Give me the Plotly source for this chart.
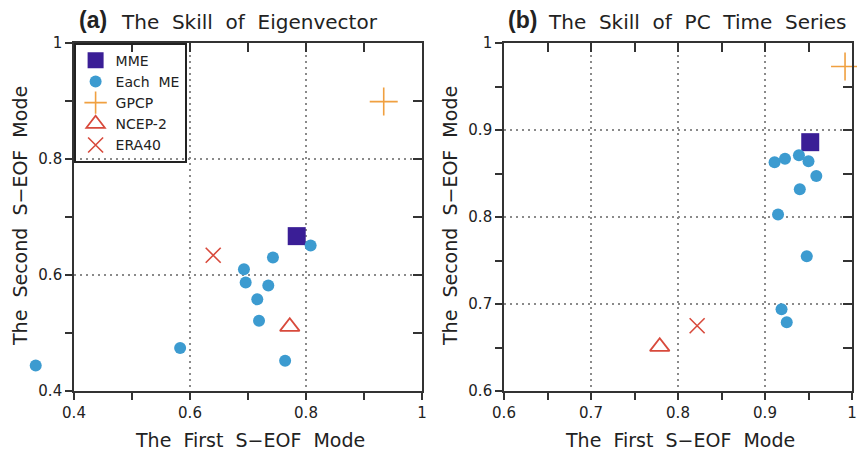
import plotly.graph_objects as go

# ---------------- data ----------------
# Panel (a): The Skill of Eigenvector
a_mme_x = [0.784]
a_mme_y = [0.667]
a_me_x = [0.808, 0.743, 0.693, 0.696, 0.735, 0.716, 0.719, 0.583, 0.764, 0.334]
a_me_y = [0.651, 0.630, 0.610, 0.587, 0.582, 0.558, 0.521, 0.474, 0.452, 0.444]
a_gpcp_x = [0.934]
a_gpcp_y = [0.899]
a_ncep_x = [0.772]
a_ncep_y = [0.511]
a_era_x = [0.640]
a_era_y = [0.634]

# Panel (b): The Skill of PC Time Series
b_mme_x = [0.952]
b_mme_y = [0.886]
b_me_x = [0.911, 0.923, 0.939, 0.950, 0.959, 0.940, 0.915, 0.948, 0.919, 0.925]
b_me_y = [0.863, 0.867, 0.871, 0.864, 0.847, 0.832, 0.803, 0.755, 0.694, 0.679]
b_gpcp_x = [0.992]
b_gpcp_y = [0.973]
b_ncep_x = [0.779]
b_ncep_y = [0.651]
b_era_x = [0.822]
b_era_y = [0.675]

a_ticks = [0.4, 0.6, 0.8, 1.0]
a_ticklabels = ["0.4", "0.6", "0.8", "1"]
b_ticks = [0.6, 0.7, 0.8, 0.9, 1.0]
b_ticklabels = ["0.6", "0.7", "0.8", "0.9", "1"]

series_names = ["MME", "Each ME", "GPCP", "NCEP-2", "ERA40"]
titles = ["The Skill of Eigenvector", "The Skill of PC Time Series"]
panel_tags = ["(a)", "(b)"]
xlabel = "The First S\u2212EOF Mode"
ylabel = "The Second S\u2212EOF Mode"

# ---------------- style ----------------
C_MME = "#3a1e96"
C_ME = "#3c9bd0"
C_GPCP = "#f0a040"
C_RED = "#d84a3c"
FONT = "DejaVu Sans"
AX = "#333333"

def spaced(s):
    return s.replace(" ", "\u00a0\u00a0")

fig = go.Figure()

legend_order = {"MME": 1, "Each ME": 2, "GPCP": 3, "NCEP-2": 4, "ERA40": 5}

def add_panel(xa, ya, xa_me, ya_me, data, show):
    (mx, my), (ex, ey), (gx, gy), (nx, ny), (rx, ry) = data
    common = dict(mode="markers", cliponaxis=False, showlegend=show, hoverinfo="x+y")
    fig.add_trace(go.Scatter(x=mx, y=my, name=series_names[0], xaxis=xa, yaxis=ya,
                             marker=dict(symbol="square", size=18, color=C_MME), **common))
    fig.add_trace(go.Scatter(x=gx, y=gy, name=series_names[2], xaxis=xa, yaxis=ya,
                             marker=dict(symbol="cross-thin-open", size=20, color=C_GPCP,
                                         line=dict(width=1.6, color=C_GPCP)), **common))
    fig.add_trace(go.Scatter(x=nx, y=ny, name=series_names[3], xaxis=xa, yaxis=ya,
                             marker=dict(symbol="triangle-up-open", size=17, color=C_RED,
                                         line=dict(width=1.8, color=C_RED)), **common))
    fig.add_trace(go.Scatter(x=rx, y=ry, name=series_names[4], xaxis=xa, yaxis=ya,
                             marker=dict(symbol="x-thin-open", size=15, color=C_RED,
                                         line=dict(width=1.6, color=C_RED)), **common))
    fig.add_trace(go.Scatter(x=ex, y=ey, name=series_names[1], xaxis=xa_me, yaxis=ya_me,
                             marker=dict(symbol="circle", size=12, color=C_ME), **common))

add_panel("x", "y", "x5", "y5",
          [(a_mme_x, a_mme_y), (a_me_x, a_me_y), (a_gpcp_x, a_gpcp_y),
           (a_ncep_x, a_ncep_y), (a_era_x, a_era_y)], True)
add_panel("x2", "y2", "x2", "y2",
          [(b_mme_x, b_mme_y), (b_me_x, b_me_y), (b_gpcp_x, b_gpcp_y),
           (b_ncep_x, b_ncep_y), (b_era_x, b_era_y)], False)

for tr in fig.data:
    tr.legendrank = legend_order[tr.name]
    # legend label with wider spacing like the original
    tr.name = spaced(tr.name)

# invisible traces to hold mirror (inside-tick) axes
fig.add_trace(go.Scatter(x=[0.4], y=[0.4], xaxis="x3", yaxis="y3", mode="markers",
                         marker=dict(opacity=0), showlegend=False, hoverinfo="skip"))
fig.add_trace(go.Scatter(x=[0.6], y=[0.6], xaxis="x4", yaxis="y4", mode="markers",
                         marker=dict(opacity=0), showlegend=False, hoverinfo="skip"))

W, H = 857, 455
dom_a = [74 / W, 422 / W]
dom_b = [504 / W, 852 / W]
dom_y = [1 - 391 / H, 1 - 43 / H]

ra = [0.4, 1.0]
rb = [0.6, 1.0]
# wider hidden axis with identical scale for the panel (a) member points
ra_ext = [0.3, 1.0]
px_per_unit = (dom_a[1] - dom_a[0]) / (ra[1] - ra[0])
dom_a_ext = [dom_a[1] - px_per_unit * (ra_ext[1] - ra_ext[0]), dom_a[1]]

tickfont = dict(family=FONT, size=15, color="#222")
GRID_DASH = "1.6px,4.4px"

def main_axis(dom, rng, tv, tt, minor_dt, anchor):
    return dict(domain=dom, range=rng, anchor=anchor, tickmode="array", tickvals=tv, ticktext=tt,
                ticks="outside", ticklen=7, tickwidth=1.5, tickcolor=AX,
                minor=dict(dtick=minor_dt, tick0=rng[0], ticks="outside", ticklen=7,
                           tickwidth=1.5, tickcolor=AX, showgrid=False),
                showline=True, linewidth=1.6, linecolor=AX, mirror=False,
                showgrid=True, gridcolor="#8a8a8a", gridwidth=1.6, griddash=GRID_DASH,
                zeroline=False, tickfont=tickfont, fixedrange=True, automargin=False)

def mirror_axis(rng, tv, minor_dt, overlay, side, anchor):
    return dict(range=rng, overlaying=overlay, side=side, anchor=anchor,
                tickmode="array", tickvals=tv, showticklabels=False,
                ticks="inside", ticklen=9, tickwidth=1.5, tickcolor=AX,
                minor=dict(dtick=minor_dt, tick0=rng[0], ticks="inside", ticklen=9,
                           tickwidth=1.5, tickcolor=AX, showgrid=False),
                showline=True, linewidth=1.6, linecolor=AX,
                showgrid=False, zeroline=False, fixedrange=True, automargin=False)

fig.update_layout(
    template="none",
    width=W, height=H,
    margin=dict(l=0, r=0, t=0, b=0, pad=0, autoexpand=False),
    paper_bgcolor="white", plot_bgcolor="rgba(0,0,0,0)",
    xaxis=main_axis(dom_a, ra, a_ticks, a_ticklabels, 0.1, "y"),
    yaxis=main_axis(dom_y, ra, a_ticks, a_ticklabels, 0.1, "x"),
    xaxis2=main_axis(dom_b, rb, b_ticks, b_ticklabels, 0.05, "y2"),
    yaxis2=main_axis(dom_y, rb, b_ticks, b_ticklabels, 0.05, "x2"),
    xaxis3=mirror_axis(ra, a_ticks, 0.1, "x", "top", "y"),
    yaxis3=mirror_axis(ra, a_ticks, 0.1, "y", "right", "x"),
    xaxis4=mirror_axis(rb, b_ticks, 0.05, "x2", "top", "y2"),
    yaxis4=mirror_axis(rb, b_ticks, 0.05, "y2", "right", "x2"),
    xaxis5=dict(domain=dom_a_ext, range=ra_ext, anchor="y5", visible=False,
                fixedrange=True, automargin=False),
    yaxis5=dict(domain=dom_y, range=ra, anchor="x5", visible=False,
                fixedrange=True, automargin=False),
    legend=dict(x=dom_a[0], y=dom_y[1], xanchor="left", yanchor="top",
                bgcolor="rgba(255,255,255,0)", bordercolor="#222", borderwidth=1.6,
                font=dict(family=FONT, size=14, color="#222"),
                itemsizing="trace", tracegroupgap=0, itemwidth=30,
                traceorder="normal"),
    showlegend=True,
)

ann = []
title_font = dict(family=FONT, size=20, color="#222")
tag_font = dict(family="Liberation Sans", size=23, color="#222", weight="bold")
for tag, title, tx, ttx in [(panel_tags[0], titles[0], 77 / W, 119 / W),
                            (panel_tags[1], titles[1], 506 / W, 546 / W)]:
    ann.append(dict(x=tx, y=1 - 20 / H, xref="paper", yref="paper", text="<b>" + tag + "</b>",
                    showarrow=False, xanchor="left", yanchor="middle", font=tag_font))
    ann.append(dict(x=ttx, y=1 - 22 / H, xref="paper", yref="paper", text=spaced(title),
                    showarrow=False, xanchor="left", yanchor="middle", font=title_font))
label_font = dict(family=FONT, size=19, color="#222")
for cx in [250 / W, 680 / W]:
    ann.append(dict(x=cx, y=1 - 440 / H, xref="paper", yref="paper", text=spaced(xlabel),
                    showarrow=False, xanchor="center", yanchor="middle", font=label_font))
for cx in [20 / W, 450 / W]:
    ann.append(dict(x=cx, y=1 - 216 / H, xref="paper", yref="paper", text=spaced(ylabel),
                    showarrow=False, xanchor="center", yanchor="middle", textangle=-90,
                    font=label_font))
fig.update_layout(annotations=ann)

fig.write_html("out.html")
